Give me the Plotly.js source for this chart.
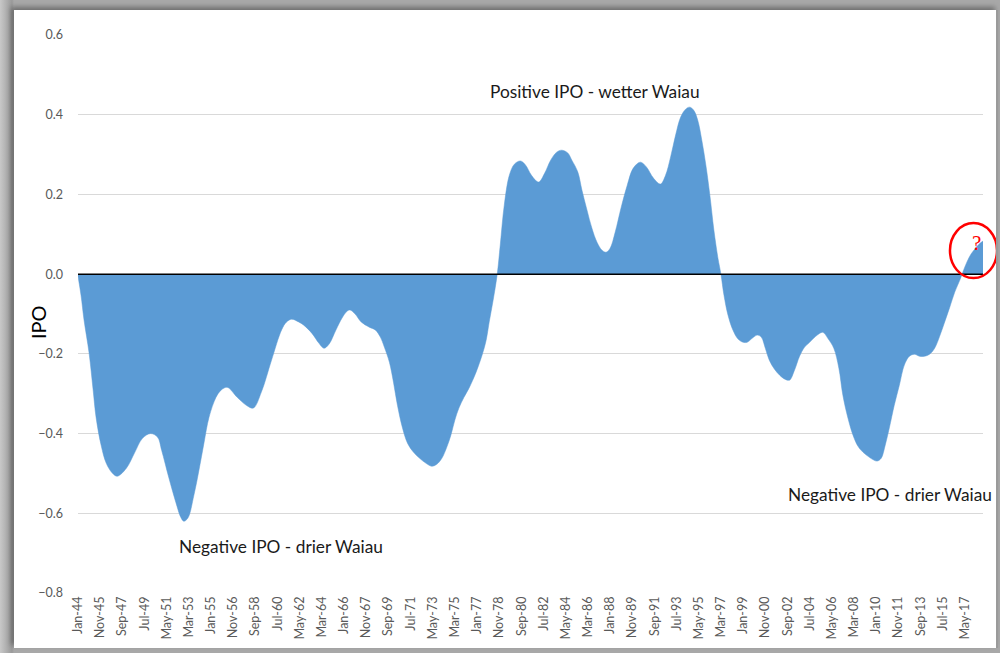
<!DOCTYPE html>
<html>
<head>
<meta charset="utf-8">
<script src="https://cdn.plot.ly/plotly-3.0.1.min.js"></script>
<style>
  html, body { margin: 0; padding: 0; }
  #outer { position: relative; width: 1000px; height: 653px; overflow: hidden;
    background: linear-gradient(90deg, #c8c8c8 0px, #9a9a9a 12px, #a8a8a8 14px); }
  #frame { position: absolute; left: 14px; top: 10px; width: 982px; height: 638px; background: #fff;
    box-shadow: -3px -3px 5px rgba(0,0,0,0.35); border-right: 2px solid #9a9a9a; }
  #chart { position: absolute; left: 0; top: 0; width: 982px; height: 638px; }
</style>
</head>
<body>
<div id="outer"><div id="frame"><div id="chart"></div></div></div>
<script>
// ---- Data ----
const dates = [
  "1944-01","1944-04","1944-07","1944-12","1945-04","1945-07","1945-12","1946-05","1946-11","1947-04",
  "1948-01","1948-09","1949-05","1950-01","1950-08","1950-12","1951-07","1952-02","1952-07","1952-10",
  "1953-02","1953-08","1954-01","1954-06","1954-11","1955-06","1955-11","1956-05","1957-03","1957-12",
  "1958-07","1959-03","1960-01","1960-11","1961-04","1961-09","1962-04","1962-09","1963-05","1963-12",
  "1964-05","1964-10","1965-05","1965-11","1966-04","1966-07","1966-12","1967-06","1968-02","1968-08",
  "1969-01","1969-05","1969-10","1970-02","1970-06","1970-11","1971-04","1971-10","1972-04","1972-10",
  "1973-04","1973-09","1974-02","1974-07","1974-11","1975-03","1975-07","1975-12","1976-05","1976-12",
  "1977-06","1977-10","1978-01","1978-05","1978-09","1978-12","1979-04","1979-09","1980-02","1980-08",
  "1981-01","1981-07","1982-02","1982-08","1983-02","1983-08","1984-01","1984-07","1984-11","1985-05",
  "1985-09","1986-02","1986-07","1986-12","1987-05","1987-09","1988-01","1988-06","1988-12","1989-06",
  "1989-12","1990-07","1991-01","1991-08","1992-03","1992-08","1993-01","1993-06","1993-11","1994-04",
  "1994-08","1994-12","1995-04","1995-08","1995-12","1996-04","1996-08","1996-12","1997-03","1997-06",
  "1997-10","1998-03","1998-08","1999-01","1999-05","1999-10","2000-03","2000-07","2000-11","2001-03",
  "2001-08","2002-01","2002-06","2002-11","2003-04","2003-09","2004-02","2004-07","2005-01","2005-08",
  "2006-01","2006-07","2006-12","2007-04","2007-09","2008-02","2008-07","2008-12","2009-06","2009-11",
  "2010-02","2010-06","2010-10","2011-02","2011-07","2011-12","2012-05","2012-10","2013-03","2013-08",
  "2014-01","2014-06","2014-11","2015-04","2015-09","2016-02","2016-07","2016-12","2017-03","2017-07",
  "2017-11","2018-03","2018-07","2018-11"
];
const ipo = [
  -0.005,-0.053,-0.115,-0.198,-0.290,-0.360,-0.430,-0.474,-0.499,-0.507,
  -0.487,-0.449,-0.412,-0.400,-0.409,-0.442,-0.509,-0.572,-0.610,-0.620,
  -0.612,-0.555,-0.492,-0.424,-0.359,-0.309,-0.291,-0.284,-0.309,-0.329,
  -0.336,-0.296,-0.216,-0.140,-0.120,-0.113,-0.120,-0.128,-0.148,-0.173,
  -0.186,-0.176,-0.140,-0.110,-0.093,-0.090,-0.100,-0.120,-0.133,-0.140,
  -0.158,-0.183,-0.221,-0.271,-0.329,-0.386,-0.424,-0.447,-0.462,-0.474,
  -0.482,-0.477,-0.462,-0.434,-0.404,-0.366,-0.336,-0.309,-0.286,-0.246,
  -0.203,-0.166,-0.120,-0.065,0.000,0.073,0.173,0.248,0.276,0.284,
  0.274,0.248,0.231,0.253,0.286,0.306,0.311,0.304,0.286,0.256,
  0.211,0.161,0.115,0.080,0.060,0.055,0.065,0.105,0.168,0.223,
  0.266,0.281,0.269,0.241,0.226,0.248,0.294,0.349,0.394,0.414,
  0.419,0.411,0.386,0.336,0.274,0.198,0.110,0.040,0.000,-0.053,
  -0.103,-0.141,-0.163,-0.171,-0.171,-0.161,-0.153,-0.158,-0.186,-0.216,
  -0.238,-0.253,-0.263,-0.266,-0.241,-0.206,-0.183,-0.171,-0.156,-0.146,
  -0.161,-0.186,-0.236,-0.304,-0.361,-0.404,-0.432,-0.447,-0.459,-0.467,
  -0.469,-0.462,-0.429,-0.386,-0.329,-0.279,-0.228,-0.206,-0.201,-0.206,
  -0.206,-0.201,-0.186,-0.156,-0.120,-0.083,-0.045,-0.015,0.005,0.030,
  0.050,0.063,0.075,0.083
];
const tickLabels = [
  "Jan-44","Nov-45","Sep-47","Jul-49","May-51","Mar-53","Jan-55","Nov-56","Sep-58","Jul-60",
  "May-62","Mar-64","Jan-66","Nov-67","Sep-69","Jul-71","May-73","Mar-75","Jan-77","Nov-78",
  "Sep-80","Jul-82","May-84","Mar-86","Jan-88","Nov-89","Sep-91","Jul-93","May-95","Mar-97",
  "Jan-99","Nov-00","Sep-02","Jul-04","May-06","Mar-08","Jan-10","Nov-11","Sep-13","Jul-15","May-17"
];
const yTicks = [0.6, 0.4, 0.2, 0.0, -0.2, -0.4, -0.6, -0.8];
const labelPositive = "Positive IPO - wetter Waiau";
const labelNegative = "Negative IPO - drier Waiau";
const yTitle = "IPO";

// ---- Helpers ----
const monthNum = {Jan:"01",Feb:"02",Mar:"03",Apr:"04",May:"05",Jun:"06",Jul:"07",Aug:"08",Sep:"09",Oct:"10",Nov:"11",Dec:"12"};
function labelToDate(l) {
  const parts = l.split("-");
  const yy = parseInt(parts[1], 10);
  const year = yy >= 40 ? 1900 + yy : 2000 + yy;
  return year + "-" + monthNum[parts[0]] + "-01";
}
const tickVals = tickLabels.map(labelToDate);

const FONT = "Lato, 'Open Sans', sans-serif";

const trace = {
  type: "scatter",
  mode: "lines",
  x: dates,
  y: ipo,
  fill: "tozeroy",
  fillcolor: "#5B9BD5",
  line: { color: "#5B9BD5", width: 0.5, shape: "spline", smoothing: 1 },
  hoverinfo: "skip"
};

const layout = {
  width: 982,
  height: 638,
  margin: { l: 64, r: 13, t: 25, b: 55 },
  paper_bgcolor: "#ffffff",
  plot_bgcolor: "#ffffff",
  showlegend: false,
  font: { family: FONT, color: "#595959", size: 12 },
  xaxis: {
    type: "date",
    range: ["1944-01-01", "2018-11-01"],
    tickmode: "array",
    tickvals: tickVals,
    ticktext: tickLabels,
    tickangle: -90,
    showgrid: false,
    zeroline: false,
    showline: false,
    ticks: "",
    tickfont: { family: FONT, size: 12.5, color: "#595959" }
  },
  yaxis: {
    range: [-0.8, 0.6],
    tickmode: "array",
    tickvals: yTicks,
    tickformat: ".1f",
    showgrid: true,
    gridcolor: "#D9D9D9",
    gridwidth: 1,
    zeroline: false,
    showline: false,
    ticks: "",
    ticklabelstandoff: 14,
    tickfont: { family: FONT, size: 12.5, color: "#595959" }
  },
  shapes: [
    { type: "line", xref: "paper", yref: "y", x0: 0, x1: 1, y0: 0, y1: 0,
      line: { color: "#000000", width: 1.5 }, layer: "above" },
    { type: "circle", xref: "paper", yref: "paper", x0: 0.9635, x1: 1.0155, y0: 0.5645, y1: 0.663,
      line: { color: "#FF0000", width: 2.5 }, layer: "above" }
  ],
  annotations: [
    { text: yTitle, x: -0.044, y: 0.486, xref: "paper", yref: "paper", showarrow: false, textangle: -90,
      xanchor: "center", yanchor: "middle",
      font: { family: FONT, size: 20, color: "#000000" } },
    { text: labelPositive, x: "1986-10-01", y: 0.459, xref: "x", yref: "y", showarrow: false,
      font: { family: FONT, size: 17.3, color: "#1a1a1a" } },
    { text: labelNegative, x: "1960-10-01", y: -0.683, xref: "x", yref: "y", showarrow: false,
      font: { family: FONT, size: 17.3, color: "#1a1a1a" } },
    { text: labelNegative, x: "2011-03-01", y: -0.552, xref: "x", yref: "y", showarrow: false,
      font: { family: FONT, size: 17.3, color: "#1a1a1a" } },
    { text: "?", x: "2018-05-01", y: 0.078, xref: "x", yref: "y", showarrow: false,
      font: { family: "'Liberation Serif', serif", size: 21, color: "#FF0000" } }
  ]
};

Plotly.newPlot("chart", [trace], layout, { displayModeBar: false, staticPlot: true });
</script>
</body>
</html>
